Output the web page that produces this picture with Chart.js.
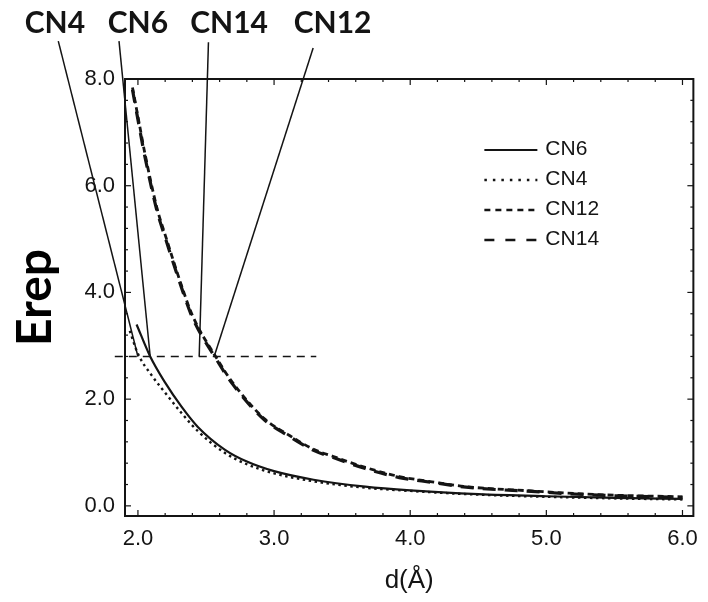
<!DOCTYPE html>
<html>
<head>
<meta charset="utf-8">
<script src="https://cdn.jsdelivr.net/npm/chart.js@4.4.1/dist/chart.umd.min.js"></script>
<style>
  html, body { margin: 0; padding: 0; background: #fff; }
  #wrap { width: 708px; height: 602px; }
</style>
</head>
<body>
<div id="wrap"><canvas id="erepChart" width="708" height="602"></canvas></div>
<script>
// Erep against distance d(A), one curve per coordination number
const cn6X = [1.99, 2.09, 2.2, 2.32, 2.44, 2.64, 2.8, 3.0, 3.29, 3.67, 4.0, 4.5, 5.0, 5.5, 6.0];
const cn6Y = [3.40, 2.80, 2.31, 1.86, 1.48, 1.05, 0.83, 0.65, 0.49, 0.36, 0.29, 0.22, 0.18, 0.15, 0.13];

const cn4X = [1.94, 2.0, 2.1, 2.2, 2.32, 2.44, 2.64, 2.8, 3.0, 3.29, 3.67, 4.0, 4.5, 5.0, 5.5, 6.0];
const cn4Y = [3.28, 2.85, 2.45, 2.12, 1.74, 1.40, 0.99, 0.78, 0.61, 0.46, 0.34, 0.28, 0.21, 0.17, 0.14, 0.12];

const upperX = [1.96, 2.01, 2.05, 2.14, 2.20, 2.32, 2.40, 2.58, 2.69, 2.93, 3.10, 3.29, 3.43, 3.67, 3.92, 4.16, 4.41, 4.89, 5.38, 6.0];
const cn12Y = [7.84, 7.16, 6.62, 5.58, 5.08, 4.13, 3.57, 2.76, 2.33, 1.63, 1.34, 1.06, 0.93, 0.72, 0.55, 0.45, 0.36, 0.28, 0.21, 0.17];
const cn14Y = [7.80, 7.10, 6.56, 5.53, 5.03, 4.09, 3.53, 2.73, 2.30, 1.61, 1.32, 1.04, 0.91, 0.70, 0.53, 0.44, 0.35, 0.27, 0.20, 0.16];

const xTicks = [2, 3, 4, 5, 6];
const yTicks = [0, 2, 4, 6, 8];

// dashed reference level and the labelled call-outs that point at it
const refLevel = 2.8;
const refLineX = [1.83, 3.31];
const calloutNames = ['CN4', 'CN6', 'CN14', 'CN12'];
const calloutLabelX = [1.39, 2.0, 2.67, 3.43];
const calloutStartX = [1.415, 1.861, 2.518, 3.287];
const calloutStartY = [8.71, 8.71, 8.69, 8.58];
const calloutEndX = [2.0, 2.09, 2.45, 2.56];

const ink = '#141414';

function pts(xs, ys) {
    return xs.map((v, i) => ({ x: v, y: ys[i] }));
}

function makeSet(name, xs, ys, dash, width) {
    return {
        label: name,
        data: pts(xs, ys),
        borderColor: ink,
        borderWidth: width,
        borderDash: dash,
        pointRadius: 0,
        fill: false,
        cubicInterpolationMode: 'monotone'
    };
}

const datasets = [
    makeSet('CN6', cn6X, cn6Y, [], 2.2),
    makeSet('CN4', cn4X, cn4Y, [2.5, 3.5], 2.4),
    makeSet('CN12', upperX, cn12Y, [6, 4], 2.8),
    makeSet('CN14', upperX, cn14Y, [13, 9], 3.2)
];

function seg(ctx, x1, y1, x2, y2) {
    ctx.beginPath();
    ctx.moveTo(x1, y1);
    ctx.lineTo(x2, y2);
    ctx.stroke();
}

// box frame with small inward ticks on every side
const framePlugin = {
    id: 'frame',
    afterDatasetsDraw(chart) {
        const { ctx, chartArea: a, scales: { x, y } } = chart;
        ctx.save();
        ctx.strokeStyle = ink;
        ctx.setLineDash([]);
        ctx.lineWidth = 2;
        ctx.strokeRect(a.left, a.top, a.right - a.left, a.bottom - a.top);
        ctx.lineWidth = 1.2;
        for (let i = 0; i <= 20; i++) {
            const px = x.getPixelForValue(2 + i * 0.2);
            const len = i % 5 === 0 ? 6 : 3;
            seg(ctx, px, a.bottom, px, a.bottom - len);
            seg(ctx, px, a.top, px, a.top + len);
        }
        for (let i = 0; i <= 20; i++) {
            const py = y.getPixelForValue(i * 0.4);
            const len = i % 5 === 0 ? 6 : 3;
            seg(ctx, a.left, py, a.left + len, py);
            seg(ctx, a.right, py, a.right - len, py);
        }
        ctx.restore();
    }
};

// reference level, call-outs and the legend
const notesPlugin = {
    id: 'notes',
    afterDraw(chart) {
        const { ctx, chartArea: a, scales: { x, y } } = chart;
        ctx.save();
        ctx.strokeStyle = ink;
        ctx.fillStyle = ink;

        ctx.lineWidth = 1.6;
        ctx.setLineDash([8, 6]);
        seg(ctx, x.getPixelForValue(refLineX[0]), y.getPixelForValue(refLevel),
            x.getPixelForValue(refLineX[1]), y.getPixelForValue(refLevel));

        ctx.setLineDash([]);
        ctx.lineWidth = 1.5;
        ctx.font = 'bold 30px Lato';
        ctx.textAlign = 'center';
        ctx.textBaseline = 'alphabetic';
        calloutNames.forEach((name, i) => {
            seg(ctx, x.getPixelForValue(calloutStartX[i]), y.getPixelForValue(calloutStartY[i]),
                x.getPixelForValue(calloutEndX[i]), y.getPixelForValue(refLevel));
            ctx.fillText(name, x.getPixelForValue(calloutLabelX[i]), 33);
        });

        // legend inside the frame, top right
        ctx.font = '21px "Liberation Sans"';
        ctx.textAlign = 'left';
        ctx.textBaseline = 'middle';
        const lx = a.right - 209;
        datasets.forEach((ds, i) => {
            const ly = a.top + 70 + i * 30;
            ctx.lineWidth = i === 0 ? 2 : 2.4;
            ctx.setLineDash(i === 1 ? [2.5, 6] : i === 2 ? [6, 5] : i === 3 ? [10, 11] : []);
            seg(ctx, lx, ly + 1, lx + 53, ly + 1);
            ctx.fillText(ds.label, lx + 61, ly);
        });
        ctx.restore();
    }
};

new Chart(document.getElementById('erepChart'), {
    type: 'line',
    data: { datasets: datasets },
    options: {
        responsive: false,
        animation: false,
        layout: { padding: { top: 79, right: 12, left: 0, bottom: 0 } },
        plugins: {
            legend: { display: false },
            tooltip: { enabled: false }
        },
        scales: {
            x: {
                type: 'linear',
                min: 1.905,
                max: 6.08,
                grid: { display: false, drawTicks: false },
                border: { display: false },
                afterBuildTicks: (s) => { s.ticks = xTicks.map(v => ({ value: v })); },
                afterFit: (s) => { s.height = 86; },
                ticks: {
                    padding: 10,
                    color: ink,
                    font: { family: 'Liberation Sans', size: 22 },
                    callback: (v) => Number(v).toFixed(1)
                },
                title: {
                    display: true,
                    text: 'd(Å)',
                    color: ink,
                    font: { family: 'Liberation Sans', size: 26 },
                    padding: { top: 0, bottom: 6 }
                }
            },
            y: {
                type: 'linear',
                min: -0.19,
                max: 8.0,
                grid: { display: false, drawTicks: false },
                border: { display: false },
                afterBuildTicks: (s) => { s.ticks = yTicks.map(v => ({ value: v })); },
                afterFit: (s) => { s.width = 125; },
                ticks: {
                    padding: 10,
                    color: ink,
                    font: { family: 'Liberation Sans', size: 22 },
                    callback: (v) => Number(v).toFixed(1)
                },
                title: {
                    display: true,
                    text: 'Erep',
                    color: '#000',
                    font: { family: 'Lato', size: 48, weight: 'bold', lineHeight: 1.2 },
                    padding: { top: 7, bottom: 0 }
                }
            }
        }
    },
    plugins: [framePlugin, notesPlugin]
});
</script>
</body>
</html>
